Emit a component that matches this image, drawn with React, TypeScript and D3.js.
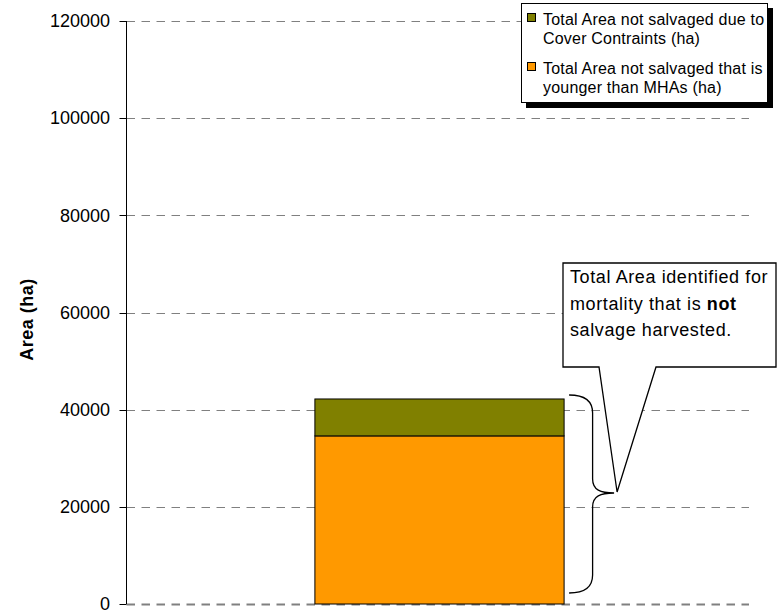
import React from "react";
import * as d3 from "d3";

// Chart data
const categories = ["Mortality"];
const seriesNames = [
  "Total Area not salvaged that is younger than MHAs (ha)",
  "Total Area not salvaged due to Cover Contraints (ha)",
];
const youngerThanMHA = [34600];
const coverConstraints = [7600];
const yTicks = [0, 20000, 40000, 60000, 80000, 100000, 120000];

const W = 778;
const H = 613;
const FONT = "Arial, 'Liberation Sans', Helvetica, sans-serif";
const COLORS = ["#FF9900", "#808000"];

export default function App() {
  const x = d3.scaleBand<string>().domain(categories).range([128, 751]).paddingInner(0.6).paddingOuter(0.3);
  const y = d3.scaleLinear().domain([0, 120000]).range([604, 21]);
  const axisX = 126.5;
  const gridEnd = 749;

  const rows = categories.map((c, i) => ({
    cat: c,
    younger: youngerThanMHA[i],
    cover: coverConstraints[i],
  }));
  const stack = d3.stack<any>().keys(["younger", "cover"])(rows);

  // Brace spanning the stacked bar
  const cat0 = categories[0];
  const bx = (x(cat0) ?? 0) + x.bandwidth();
  const total = youngerThanMHA[0] + coverConstraints[0];
  const bTop = y(total) - 4;
  const bBot = y(0) - 11;
  const bMid = (bTop + bBot) / 2 - 1;
  const x0 = bx + 5;
  const xv = bx + 28.5;
  const xt = bx + 50;
  const r = 18;
  const brace = d3.path();
  brace.moveTo(x0, bTop);
  brace.bezierCurveTo(x0 + 15, bTop, xv, bTop + 5, xv, bTop + r);
  brace.lineTo(xv, bMid - r + 4);
  brace.bezierCurveTo(xv, bMid - 3, xv + 8, bMid, xt, bMid);
  brace.bezierCurveTo(xv + 8, bMid, xv, bMid + 3, xv, bMid + r - 4);
  brace.lineTo(xv, bBot - r);
  brace.bezierCurveTo(xv, bBot - 5, x0 + 15, bBot, x0, bBot);

  // Callout with pointer to the brace tip
  const cL = 563, cT = 263, cR = 776, cB = 367;
  const tipX = xt + 3, tipY = bMid - 1;
  const callout = d3.path();
  callout.moveTo(cL, cT);
  callout.lineTo(cR, cT);
  callout.lineTo(cR, cB);
  callout.lineTo(656, cB);
  callout.lineTo(tipX, tipY);
  callout.lineTo(599, cB);
  callout.lineTo(cL, cB);
  callout.closePath();

  const legendItems = [
    { color: COLORS[1], lines: ["Total Area not salvaged due to", "Cover Contraints (ha)"], y: 25 },
    { color: COLORS[0], lines: ["Total Area not salvaged that is", "younger than MHAs (ha)"], y: 74 },
  ];

  return (
    <svg width={W} height={H} style={{ position: "absolute", left: 0, top: 0, background: "#fff" }} fontFamily={FONT}>
      {/* gridlines */}
      {yTicks.map((t) => (
        <line
          key={"g" + t}
          x1={axisX}
          x2={gridEnd}
          y1={Math.round(y(t)) + 0.5}
          y2={Math.round(y(t)) + 0.5}
          stroke="#808080"
          strokeWidth={t === 0 ? 2 : 1}
          strokeDasharray="8.5,6.5"
        />
      ))}

      {/* stacked bars */}
      {stack.map((layer, li) =>
        layer.map((d, i) => (
          <rect
            key={li + "-" + i}
            x={x(categories[i])}
            width={x.bandwidth()}
            y={y(d[1])}
            height={y(d[0]) - y(d[1])}
            fill={COLORS[li]}
            stroke="#000"
            strokeWidth={1}
          />
        ))
      )}

      {/* y axis */}
      <line x1={axisX} x2={axisX} y1={y(120000)} y2={y(0)} stroke="#000" strokeWidth={1} />
      {yTicks.map((t) => (
        <g key={"t" + t}>
          <line x1={axisX - 7} x2={axisX} y1={Math.round(y(t)) + 0.5} y2={Math.round(y(t)) + 0.5} stroke="#000" />
          <text x={110} y={y(t)} dy="0.35em" textAnchor="end" fontSize={18} fill="#000">
            {t}
          </text>
        </g>
      ))}
      <text
        transform={`translate(33, ${(y(0) + y(120000)) / 2 + 7}) rotate(-90)`}
        textAnchor="middle"
        fontSize={18}
        fontWeight="bold"
        letterSpacing={0.5}
        fill="#000"
      >
        Area (ha)
      </text>

      {/* brace and callout */}
      <path d={brace.toString()} fill="none" stroke="#000" strokeWidth={1.3} />
      <path d={callout.toString()} fill="#fff" stroke="#000" strokeWidth={1.3} strokeLinejoin="miter" />
      <text fontSize={18} letterSpacing={0.6} fill="#000">
        <tspan x={570} y={283}>Total Area identified for</tspan>
        <tspan x={570} y={309.5}>
          mortality that is <tspan fontWeight="bold">not</tspan>
        </tspan>
        <tspan x={570} y={336}>salvage harvested.</tspan>
      </text>

      {/* legend */}
      <rect x={526} y={8} width={247} height={100} fill="#000" />
      <rect x={521.5} y={3.5} width={246} height={99} fill="#fff" stroke="#000" strokeWidth={1} />
      {legendItems.map((it, i) => (
        <g key={"l" + i}>
          <rect x={527.5} y={it.y - 11.5} width={8} height={8} fill={it.color} stroke="#000" strokeWidth={1} />
          <text fontSize={16} letterSpacing={0.2} fill="#000">
            <tspan x={543} y={it.y}>{it.lines[0]}</tspan>
            <tspan x={543} y={it.y + 19}>{it.lines[1]}</tspan>
          </text>
        </g>
      ))}
    </svg>
  );
}
